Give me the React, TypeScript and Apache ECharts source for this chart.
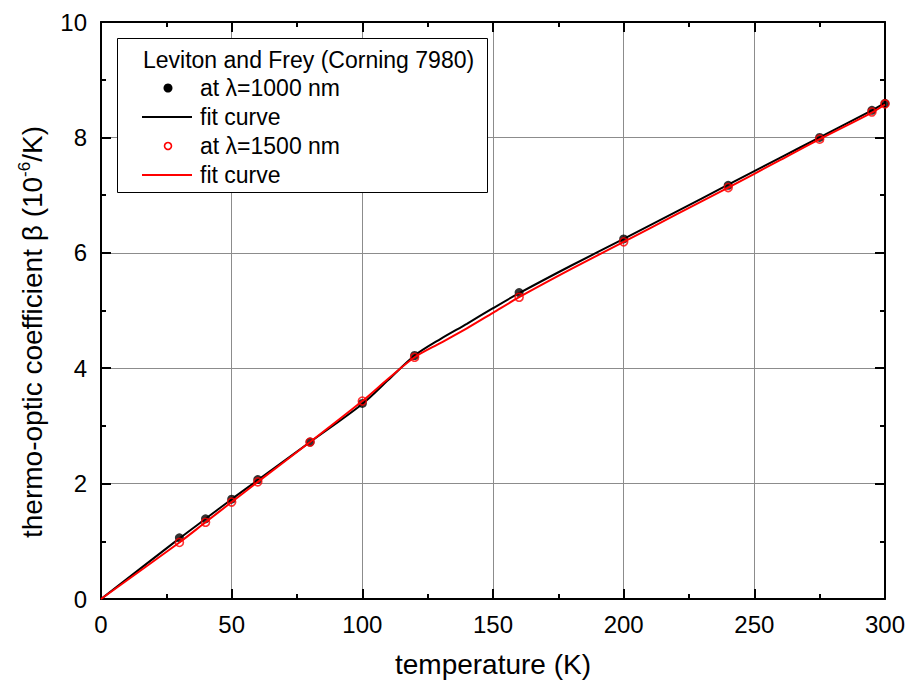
import React, { useEffect, useRef } from "react";
import * as echarts from "echarts";

const pointTemps = [30, 40, 50, 60, 80, 100, 120, 160, 200, 240, 275, 295, 300];
const beta1000 = [1.06, 1.39, 1.73, 2.07, 2.72, 3.39, 4.22, 5.31, 6.24, 7.17, 8.0, 8.47, 8.59];
const beta1500 = [0.98, 1.33, 1.68, 2.03, 2.72, 3.43, 4.19, 5.23, 6.19, 7.13, 7.97, 8.44, 8.58];

const fitTemps1000 = [0, 30, 40, 50, 60, 80, 100, 110, 120, 130, 140, 150, 160, 180, 200, 220, 240, 260, 275, 295, 300];
const fit1000 = [0, 1.05, 1.39, 1.73, 2.06, 2.72, 3.38, 3.8, 4.22, 4.51, 4.77, 5.04, 5.3, 5.78, 6.24, 6.71, 7.18, 7.65, 8.0, 8.47, 8.6];
const fitTemps1500 = [0, 30, 40, 50, 60, 80, 100, 110, 120, 130, 140, 150, 160, 180, 200, 220, 240, 260, 275, 295, 300];
const fit1500 = [0, 0.98, 1.33, 1.68, 2.03, 2.72, 3.43, 3.82, 4.19, 4.44, 4.69, 4.96, 5.23, 5.72, 6.19, 6.66, 7.13, 7.61, 7.97, 8.43, 8.57];

const xTicks = { min: 0, max: 300, interval: 50 };
const yTicks = { min: 0, max: 10, interval: 2 };

const xTitle = "temperature (K)";
const yTitleRich = "{a|thermo-optic coefficient β (10}{s|-6}{a|/K)}";
const legendTitle = "Leviton and Frey (Corning 7980)";
const legendLabels = ["at λ=1000 nm", "fit curve", "at λ=1500 nm", "fit curve"];

const FONT = "Liberation Sans, Arial, sans-serif";

function zip(xs: number[], ys: number[]) {
  return xs.map((x, i) => [x, ys[i]]);
}

export default function App() {
  const ref = useRef<HTMLDivElement>(null);
  useEffect(() => {
    if (!ref.current) return;
    const chart = echarts.init(ref.current, undefined, { renderer: "svg" });
    const axisCommon = {
      axisLine: { show: true, onZero: false, lineStyle: { color: "#000", width: 2 } },
      axisTick: { show: true, inside: true, length: 10, lineStyle: { color: "#000", width: 2 } },
      minorTick: { show: true, splitNumber: 2, length: 5, lineStyle: { color: "#000", width: 2 } },
    };
    const legendRows = [88, 117, 146, 175];
    chart.setOption({
      animation: false,
      backgroundColor: "#fff",
      grid: { left: 101, right: 27, top: 22, bottom: 90 },
      xAxis: [
        {
          type: "value",
          ...xTicks,
          ...axisCommon,
          position: "bottom",
          name: xTitle,
          nameLocation: "middle",
          nameGap: 51,
          nameTextStyle: { fontSize: 28, color: "#000", fontFamily: FONT },
          axisLabel: { fontSize: 24, color: "#000", fontFamily: FONT, margin: 13 },
          splitLine: { show: true, lineStyle: { color: "#8c8c8c", width: 1 } },
        },
        {
          type: "value",
          ...xTicks,
          ...axisCommon,
          position: "top",
          axisLabel: { show: false },
          splitLine: { show: false },
        },
      ],
      yAxis: [
        {
          type: "value",
          ...yTicks,
          ...axisCommon,
          position: "left",
          axisLabel: { fontSize: 24, color: "#000", fontFamily: FONT, margin: 14 },
          splitLine: { show: true, lineStyle: { color: "#8c8c8c", width: 1 } },
        },
        {
          type: "value",
          ...yTicks,
          ...axisCommon,
          position: "right",
          axisLabel: { show: false },
          splitLine: { show: false },
        },
      ],
      series: [
        {
          name: "fit curve (1000 nm)",
          type: "line",
          data: zip(fitTemps1000, fit1000),
          symbol: "none",
          smooth: 0.3,
          lineStyle: { color: "#000", width: 2 },
          z: 2,
        },
        {
          name: "at λ=1000 nm",
          type: "scatter",
          data: zip(pointTemps, beta1000),
          symbol: "circle",
          symbolSize: 9,
          itemStyle: { color: "#000" },
          z: 3,
        },
        {
          name: "fit curve (1500 nm)",
          type: "line",
          data: zip(fitTemps1500, fit1500),
          symbol: "none",
          smooth: 0.3,
          lineStyle: { color: "#ff0000", width: 2 },
          z: 4,
        },
        {
          name: "at λ=1500 nm",
          type: "scatter",
          data: zip(pointTemps, beta1500),
          symbol: "circle",
          symbolSize: 8,
          itemStyle: { color: "rgba(0,0,0,0)", borderColor: "#ff0000", borderWidth: 1.6 },
          z: 5,
        },
      ],
      graphic: [
        {
          type: "text",
          x: 32,
          y: 332,
          rotation: Math.PI / 2,
          style: {
            text: yTitleRich,
            align: "center",
            verticalAlign: "middle",
            fill: "#000",
            fontFamily: FONT,
            fontSize: 28,
            rich: {
              a: { fontSize: 28, fill: "#000", fontFamily: FONT, lineHeight: 32 },
              s: { fontSize: 17, fill: "#000", fontFamily: FONT, verticalAlign: "top", lineHeight: 32 },
            },
          },
          z: 50,
        },
        {
          type: "rect",
          shape: { x: 117.5, y: 38.5, width: 370, height: 154 },
          style: { fill: "#fff", stroke: "#000", lineWidth: 1 },
          z: 100,
        },
        {
          type: "text",
          x: 143,
          y: 60,
          style: { text: legendTitle, fontSize: 23, fontFamily: FONT, fill: "#000", verticalAlign: "middle", align: "left" },
          z: 101,
        },
        {
          type: "circle",
          shape: { cx: 168, cy: legendRows[0], r: 4.5 },
          style: { fill: "#000" },
          z: 101,
        },
        {
          type: "line",
          shape: { x1: 142, y1: legendRows[1], x2: 192, y2: legendRows[1] },
          style: { stroke: "#000", lineWidth: 2 },
          z: 101,
        },
        {
          type: "circle",
          shape: { cx: 168, cy: legendRows[2], r: 3.5 },
          style: { fill: "#fff", stroke: "#ff0000", lineWidth: 1.6 },
          z: 101,
        },
        {
          type: "line",
          shape: { x1: 142, y1: legendRows[3], x2: 192, y2: legendRows[3] },
          style: { stroke: "#ff0000", lineWidth: 2 },
          z: 101,
        },
        ...legendLabels.map((t, i) => ({
          type: "text",
          x: 200,
          y: legendRows[i],
          style: { text: t, fontSize: 23, fontFamily: FONT, fill: "#000", verticalAlign: "middle", align: "left" },
          z: 101,
        })),
      ],
    });
    return () => chart.dispose();
  }, []);
  return <div ref={ref} style={{ width: 912, height: 689, position: "absolute", left: 0, top: 0 }} />;
}
